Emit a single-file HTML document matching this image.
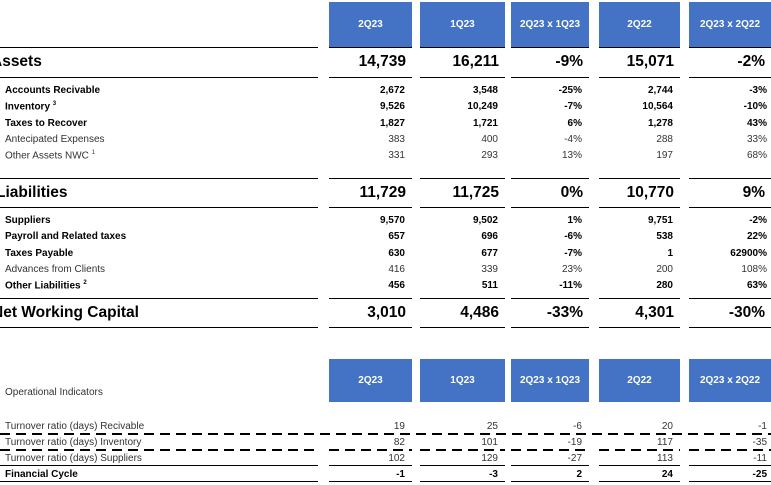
<!DOCTYPE html>
<html><head><meta charset="utf-8"><style>
body{margin:0;width:771px;height:485px;overflow:hidden;background:#fff;font-family:"Liberation Sans",sans-serif;position:relative}
.a{position:absolute;white-space:nowrap}
.hd{position:absolute;background:#4472c4;color:#fff;font-size:10px;font-weight:bold;display:flex;align-items:center;justify-content:center}
.ln{position:absolute;height:0;border-top:1.5px solid #000}
.dl{position:absolute;height:1.5px;background:repeating-linear-gradient(90deg,#000 0 10px,transparent 10px 16px)}
.big{font-size:15.5px;font-weight:bold;color:#000}
.sm{font-size:10px;color:#333}
.b{font-weight:bold;color:#000}
.r{text-align:right}
sup{font-size:6px}
</style></head><body>
<div id="root"></div>
<script>
const cols=[[329,412],[420,505],[511,589],[599,680],[689,771]];
const headers=["2Q23","1Q23","2Q23 x 1Q23","2Q22","2Q23 x 2Q22"];
const assetsTotal=["14,739","16,211","-9%","15,071","-2%"];
const liabTotal=["11,729","11,725","0%","10,770","9%"];
const nwcTotal=["3,010","4,486","-33%","4,301","-30%"];
const assetRows=[["Accounts Recivable",1,"","2,672","3,548","-25%","2,744","-3%"],["Inventory",1,"3","9,526","10,249","-7%","10,564","-10%"],["Taxes to Recover",1,"","1,827","1,721","6%","1,278","43%"],["Antecipated Expenses",0,"","383","400","-4%","288","33%"],["Other Assets NWC",0,"1","331","293","13%","197","68%"]];
const liabRows=[["Suppliers",1,"","9,570","9,502","1%","9,751","-2%"],["Payroll and Related taxes",1,"","657","696","-6%","538","22%"],["Taxes Payable",1,"","630","677","-7%","1","62900%"],["Advances from Clients",0,"","416","339","23%","200","108%"],["Other Liabilities",1,"2","456","511","-11%","280","63%"]];
const opRows=[["Turnover ratio (days) Recivable",0,"","19","25","-6","20","-1"],["Turnover ratio (days) Inventory",0,"","82","101","-19","117","-35"],["Turnover ratio (days) Suppliers",0,"","102","129","-27","113","-11"],["Financial Cycle",1,"","-1","-3","2","24","-25"]];
const root=document.getElementById('root');
function el(cls,x,y,w,h,txt,name){const d=document.createElement('div');d.className=cls;d.style.left=x+'px';d.style.top=y+'px';if(w!=null)d.style.width=w+'px';if(h!=null)d.style.height=h+'px';if(txt!=null)d.innerHTML=txt;


root.appendChild(d);return d;}
function headerRow(y,h,pre){headers.forEach((t,i)=>el('hd',cols[i][0],y,cols[i][1]-cols[i][0],h,t,pre+'-header-'+i));}
function lines(y,cls,pre){el(cls,0,y,318,null,null,pre+'-line-label');cols.forEach((c,i)=>el(cls,c[0],y,c[1]-c[0],null,null,pre+'-line-'+i));}
function total(y,label,lx,vals,pre){el('a big',lx,y,null,null,label,pre+'-label');vals.forEach((v,i)=>el('a big r',cols[i][0],y,cols[i][1]-cols[i][0]-6,null,v,pre+'-value-'+i));}
function rows(y0,step,arr,pre,pad){arr.forEach((r,k)=>{const y=y0+k*step;const c='a sm'+(r[1]?' b':'');
el(c,pad,y,null,null,r[0]+(r[2]?' <sup>'+r[2]+'</sup>':''),pre+'-row-label-'+k);
for(let i=0;i<5;i++)el(c+' r',cols[i][0],y,cols[i][1]-cols[i][0]-(i==4?4:7),null,r[3+i],pre+'-row-'+k+'-value-'+i);});}
headerRow(2,45,'top');
lines(47,'ln','top-a');
total(53,'Assets',-9,assetsTotal,'assets-total');
lines(77,'ln','top-b');
rows(85,16.3,assetRows,'assets',5);
lines(178,'ln','liab-a');
total(184,'Liabilities',-4,liabTotal,'liabilities-total');
lines(207,'ln','liab-b');
rows(215,16.3,liabRows,'liabilities',5);
lines(298,'ln','nwc-a');
total(304,'Net Working Capital',-8,nwcTotal,'nwc-total');
lines(327,'ln','nwc-b');
headerRow(359,43,'op');
el('a sm',5,387,null,null,'Operational Indicators','op-title');
rows(421,16,opRows,'op',5);
el('dl',0,433,771,null,null,'op-dash-1');
lines(449,'dl','op-dash-2');
lines(465,'ln','op-line-3');
lines(481,'ln','op-line-4');
</script>
</body></html>
